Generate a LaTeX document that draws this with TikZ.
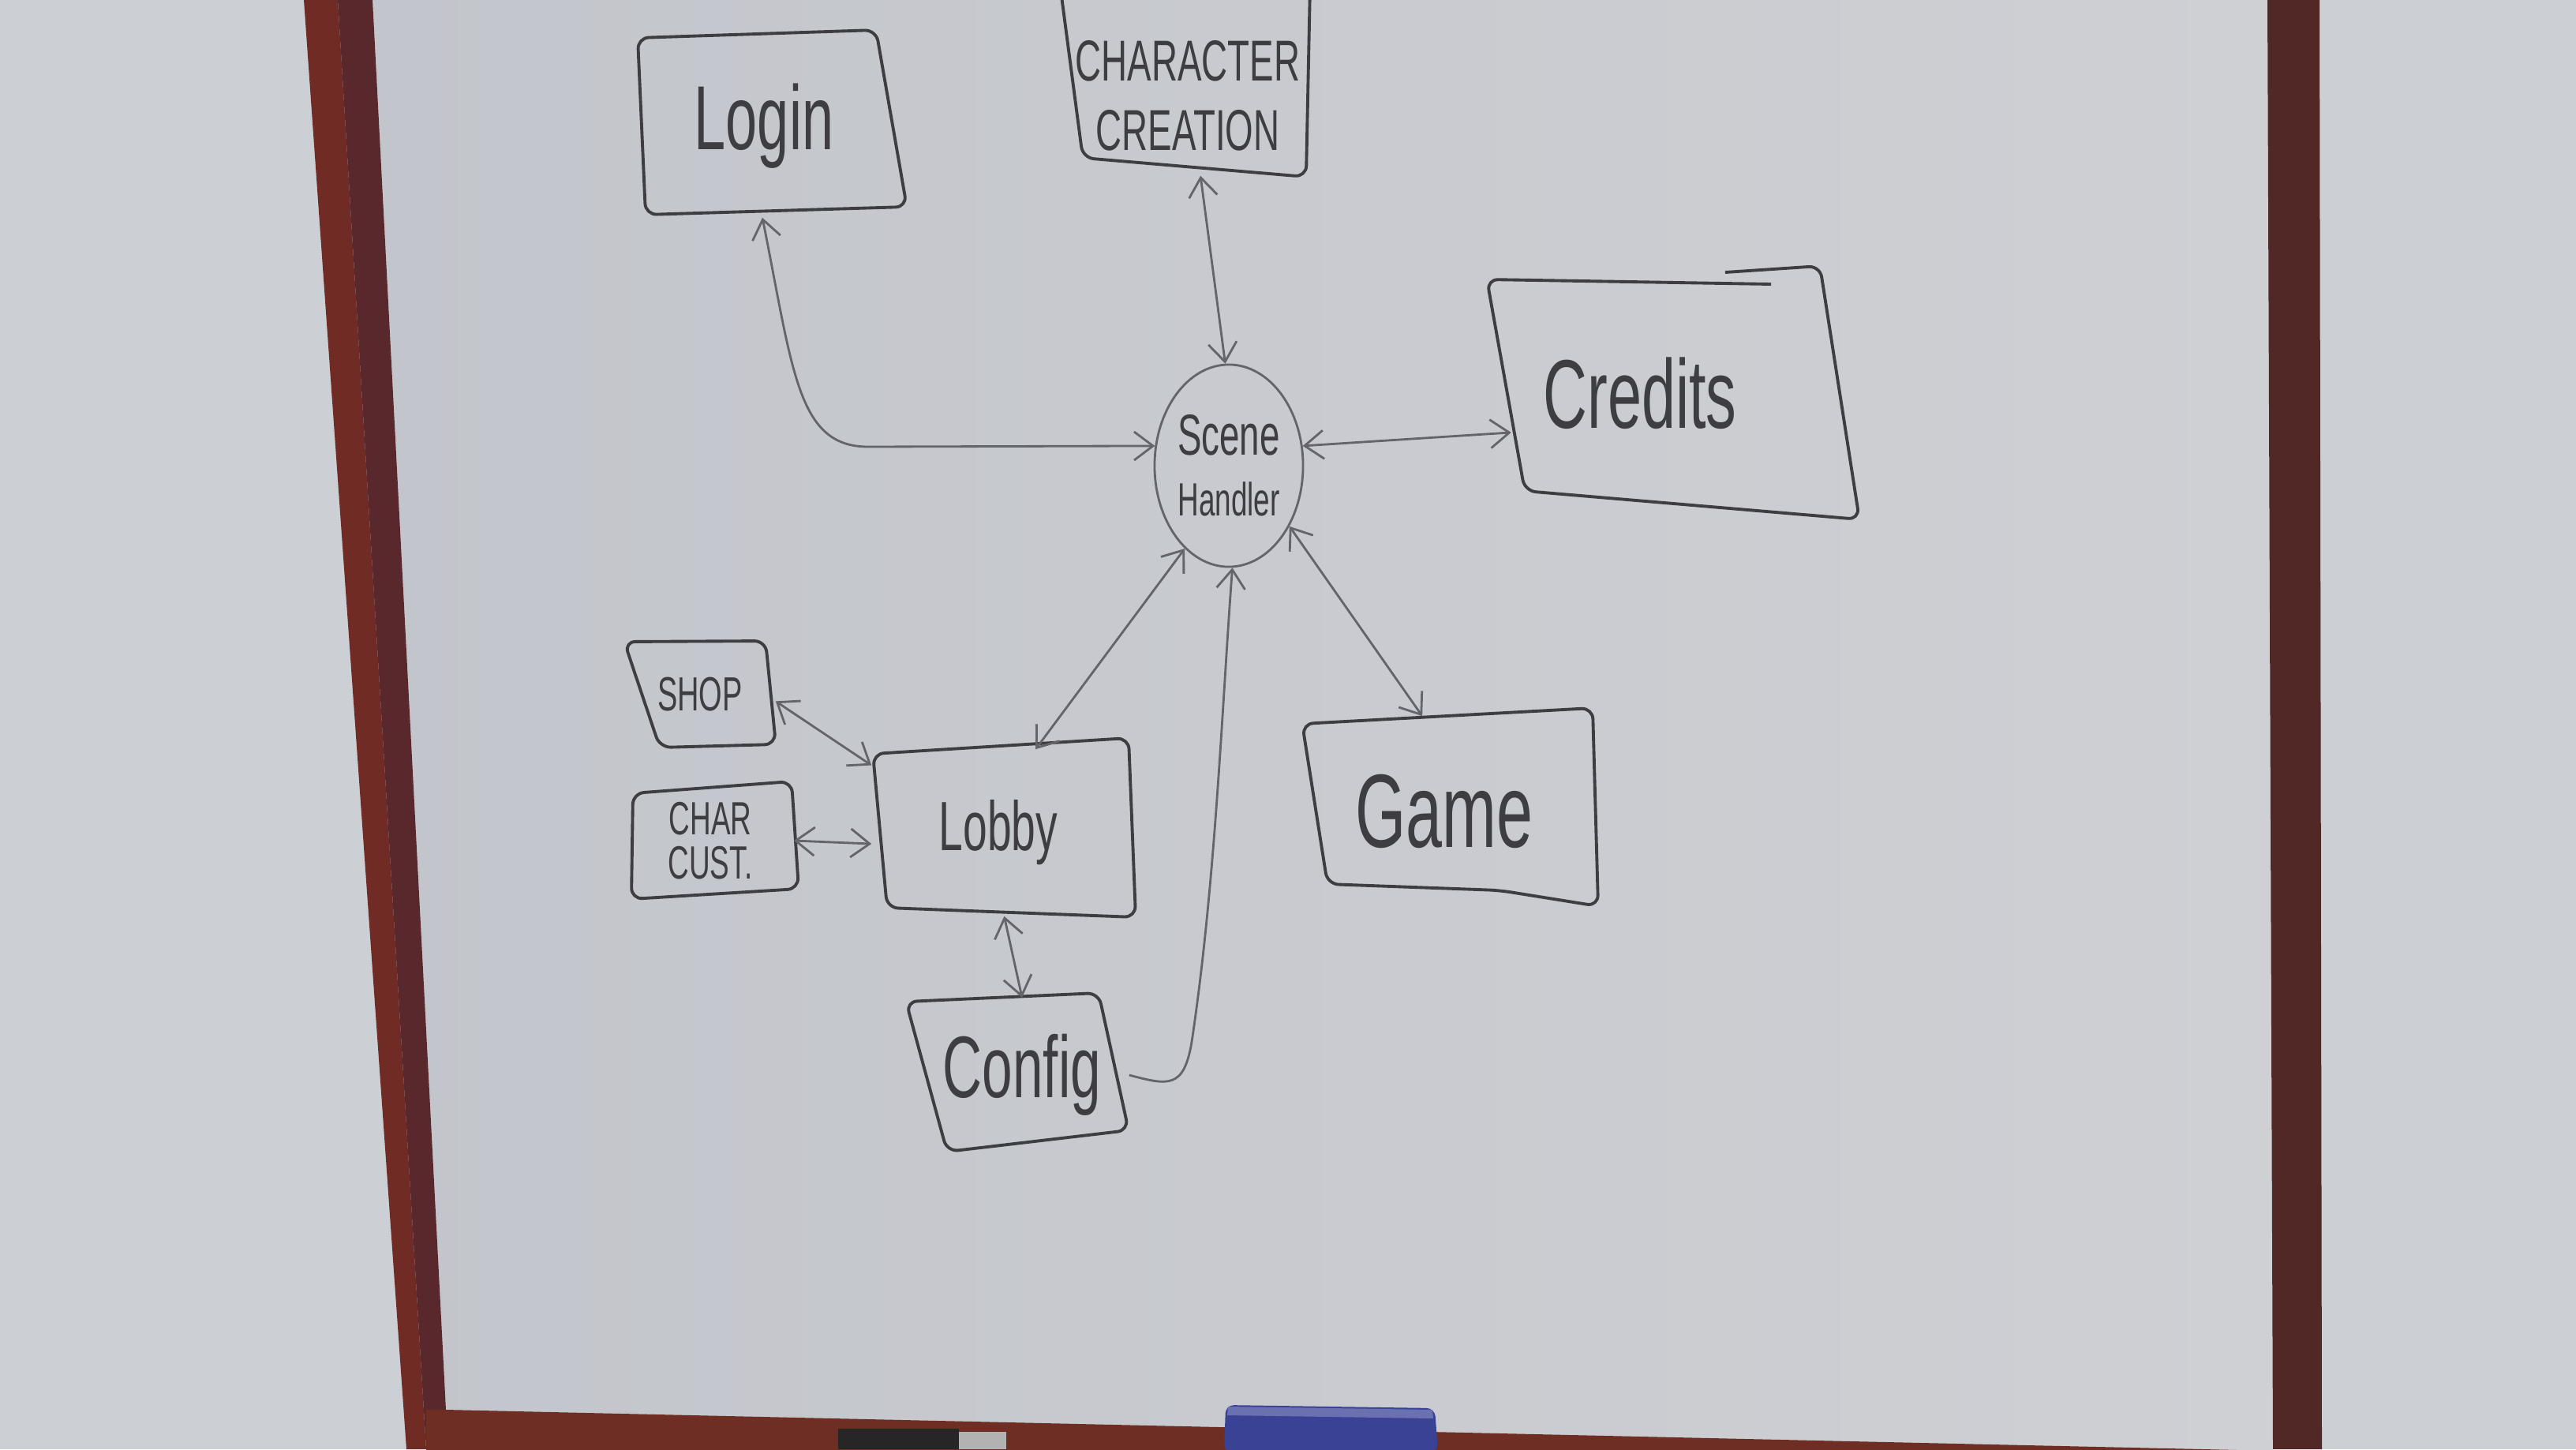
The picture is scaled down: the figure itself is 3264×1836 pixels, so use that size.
\documentclass[tikz,border=0pt]{standalone}
\usepackage{fontspec}
\setmainfont{Liberation Sans}
\usepackage{graphicx}
\usetikzlibrary{arrows.meta,shapes.geometric}
\definecolor{wall}{RGB}{204,207,212}
\definecolor{boardL}{RGB}{194,197,203}
\definecolor{boardR}{RGB}{207,208,212}
\definecolor{frameA}{RGB}{112,44,36}
\definecolor{frameB}{RGB}{88,40,44}
\definecolor{frameC}{RGB}{82,40,38}
\definecolor{rail}{RGB}{110,46,36}
\definecolor{eraser}{RGB}{58,66,150}
\definecolor{ink}{RGB}{62,62,66}
\definecolor{inklight}{RGB}{100,100,106}
\newcommand\handtext[1]{\scalebox{1}[1.6]{#1}}
\begin{document}
\begin{tikzpicture}[x=0.01cm,y=-0.01cm,
  >={Straight Barb[length=2.4mm,width=3.6mm]},
  outline/.style={draw=ink,line width=1.1pt,rounded corners=4pt,line join=round},
  conn/.style={draw=inklight,line width=0.8pt,<->},
  lbl/.style={inner sep=0pt,text=ink,align=center}]
\useasboundingbox (0,0) rectangle (3264,1836);
\clip (0,0) rectangle (3264,1836);
%BOARD
\fill[wall] (0,0) rectangle (3264,1836);
\shade[left color=boardL,right color=boardR] (470,0) -- (2873,0) -- (2880,1840) -- (565,1786) -- cycle;
\fill[frameA] (385,0) -- (428,0) -- (540,1836) -- (515,1836) -- cycle;
\fill[frameB] (428,0) -- (472,0) -- (565,1786) -- (580,1836) -- (540,1836) -- cycle;
\fill[rail] (540,1786) -- (565,1786) -- (2880,1838) -- (2880,1860) -- (540,1860) -- cycle;
\fill[frameC] (2873,0) -- (2939,0) -- (2942,1836) -- (2880,1836) -- cycle;
\fill[black!85] (1062,1810) rectangle (1215,1836);
\fill[gray!60] (1215,1814) rectangle (1275,1836);
\fill[eraser,rounded corners=3pt] (1551,1840) -- (1553,1780) -- (1818,1784) -- (1822,1840) -- cycle;
\fill[eraser!75!white] (1556,1782) -- (1815,1786) -- (1816,1797) -- (1555,1793) -- cycle;
%BOXES
\draw[outline] (808,48) -- (1110,38) -- (1149,262) -- (818,272) -- cycle;
\draw[outline] (1343,-20) -- (1372,200) -- (1655,224) -- (1660,-20);
\draw[outline] (2244,360) -- (1884,354) -- (1932,622) -- (2356,658) -- (2306,337) -- (2186,345);
\draw[outline] (1650,917) -- (2018,897) -- (2025,1148) -- (1900,1128) -- (1682,1120) -- cycle;
\draw[outline] (1106,955) -- (1430,935) -- (1439,1162) -- (1124,1150) -- cycle;
\draw[outline] (791,813) -- (970,812) -- (983,943) -- (836,947) -- cycle;
\draw[outline] (802,1005) -- (1003,990) -- (1012,1126) -- (800,1139) -- cycle;
\draw[outline] (1148,1269) -- (1392,1258) -- (1430,1432) -- (1200,1459) -- cycle;
\node[lbl,minimum width=3.2cm,minimum height=2.3cm,font=\fontsize{20.5}{24}\selectfont] (login) at (968,160) {\handtext{Login}};
\node[lbl,minimum width=3.0cm,minimum height=2.02cm,font=\fontsize{13}{25}\selectfont] (creation) at (1505,121) {\handtext{CHARACTER}\\\handtext{CREATION}};
\node[draw=inklight,line width=0.8pt,ellipse,minimum width=1.88cm,minimum height=2.56cm,inner sep=0pt,text=ink,align=center,font=\fontsize{13}{22}\selectfont] (scene) at (1557,590) {\handtext{Scene}\\{\fontsize{10.5}{22}\selectfont\handtext{Handler}}};
\node[lbl,minimum width=3.25cm,minimum height=3.0cm,font=\fontsize{22}{26}\selectfont] (credits) at (2078,498) {\handtext{Credits}};
\node[lbl,minimum width=3.6cm,minimum height=2.4cm,font=\fontsize{23.5}{28}\selectfont] (game) at (1830,1028) {\handtext{Game}};
\node[lbl,minimum width=3.2cm,minimum height=2.1cm,font=\fontsize{15.7}{19}\selectfont] (lobby) at (1265,1055) {\handtext{Lobby}};
\node[lbl,minimum width=1.9cm,minimum height=1.34cm,font=\fontsize{10.8}{13}\selectfont] (shop) at (887,880) {\handtext{SHOP}};
\node[lbl,minimum width=2.1cm,minimum height=1.4cm,font=\fontsize{10.5}{16}\selectfont] (cust) at (900,1065) {\handtext{CHAR}\\\handtext{CUST.}};
\node[lbl,minimum width=2.7cm,minimum height=1.95cm,font=\fontsize{19.7}{24}\selectfont] (config) at (1295,1362) {\handtext{Config}};
%LINKS
\draw[conn] (login.-91) .. controls (1005,470) and (1010,566) .. (1100,566) -- (scene.165);
\draw[conn] (creation.-81) -- (scene.92);
\draw[conn] (scene.15) -- (credits.-163);
\draw[conn] (scene.-45) -- (game.103);
\draw[conn] (scene.-118) -- (lobby.66);
\draw[conn,->] (config.east) .. controls (1480,1375) and (1500,1380) .. (1510,1320) .. controls (1540,1120) and (1548,900) .. (scene.-88);
\draw[conn] (shop.-5) -- (lobby.152);
\draw[conn] (cust.east) -- (lobby.185);
\draw[conn] (lobby.-86) -- (config.north);
\end{tikzpicture}
\end{document}
